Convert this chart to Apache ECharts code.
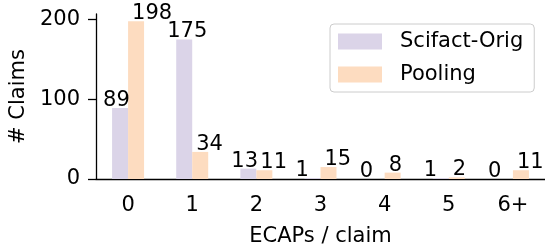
<!DOCTYPE html>
<html>
<head>
    <meta charset="utf-8">
    <title>ECAPs per claim</title>
    <script src="https://cdn.jsdelivr.net/npm/echarts@6/dist/echarts.min.js"></script>
    <style>
        html, body { margin: 0; padding: 0; background: #fff; }
        #mychart { width: 545px; height: 252px; }
    </style>
</head>
<body>
<div id="mychart"></div>
<script>
    var categories = ['0', '1', '2', '3', '4', '5', '6+'];
    var scifactOrig = [89, 175, 13, 1, 0, 1, 0];
    var pooling = [198, 34, 11, 15, 8, 2, 11];
    var yTicks = [0, 100, 200];

    var font = 'DejaVu Sans';
    var purple = '#dbd4e8';
    var orange = '#fddcc0';

    var myChart = echarts.init(document.getElementById('mychart'));
    var option = {
        animation: false,
        textStyle: { fontFamily: font },
        grid: { left: 96, right: 0, top: 14, bottom: 69 },
        legend: {
            orient: 'vertical',
            left: 330,
            top: 24,
            padding: [7, 11, 7, 8],
            itemWidth: 44,
            itemHeight: 16,
            itemGap: 12,
            icon: 'rect',
            borderColor: '#cccccc',
            borderWidth: 1,
            borderRadius: 4,
            backgroundColor: '#ffffff',
            textStyle: { fontFamily: font, fontSize: 21, color: '#000', padding: [0, 0, 0, 13] },
            data: ['Scifact-Orig', 'Pooling']
        },
        xAxis: {
            type: 'category',
            data: categories,
            name: 'ECAPs / claim',
            nameLocation: 'middle',
            nameGap: 47,
            nameTextStyle: { fontFamily: font, fontSize: 21, color: '#000' },
            axisLine: { lineStyle: { color: '#000', width: 1.3 } },
            axisTick: { alignWithLabel: true, length: 7, lineStyle: { color: '#000', width: 1.3 } },
            axisLabel: { fontFamily: font, fontSize: 21, color: '#000', margin: 16 }
        },
        yAxis: {
            type: 'value',
            min: 0,
            max: 207,
            interval: 100,
            name: '# Claims',
            nameLocation: 'middle',
            nameGap: 64,
            nameTextStyle: { fontFamily: font, fontSize: 21, color: '#000' },
            splitLine: { show: false },
            axisLine: { show: true, lineStyle: { color: '#000', width: 1.3 } },
            axisTick: { show: true, length: 8, customValues: yTicks, lineStyle: { color: '#000', width: 1.3 } },
            axisLabel: { fontFamily: font, fontSize: 21, color: '#000', margin: 16, customValues: yTicks }
        },
        series: [
            {
                name: 'Scifact-Orig',
                type: 'bar',
                data: scifactOrig,
                barWidth: 16,
                barGap: '0%',
                itemStyle: { color: purple },
                label: {
                    show: true, position: 'top', distance: 0, align: 'left', offset: [-17, 3],
                    fontFamily: font, fontSize: 21, color: '#000'
                }
            },
            {
                name: 'Pooling',
                type: 'bar',
                data: pooling,
                barWidth: 16,
                barGap: '0%',
                itemStyle: { color: orange },
                label: {
                    show: true, position: 'top', distance: 0, align: 'left', offset: [-4, 3],
                    fontFamily: font, fontSize: 21, color: '#000'
                }
            }
        ]
    };
    myChart.setOption(option);
</script>
</body>
</html>
